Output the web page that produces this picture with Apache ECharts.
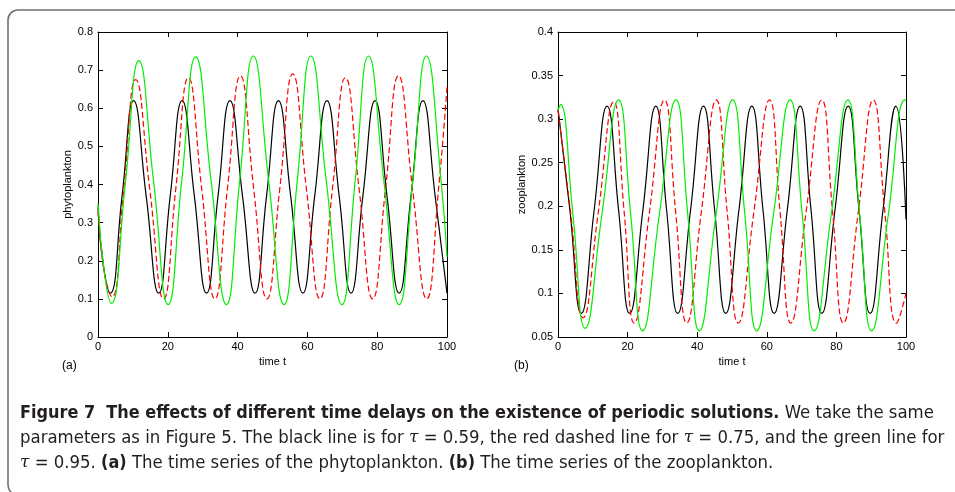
<!DOCTYPE html>
<html>
<head>
<meta charset="utf-8">
<script src="https://cdn.jsdelivr.net/npm/echarts@6/dist/echarts.min.js"></script>
<style>
html,body{margin:0;padding:0;background:#fff;}
#chart{width:955px;height:492px;}
</style>
</head>
<body>
<div id="chart"></div>
<script>
// ---- tick labels ----
var xTicks = [0, 20, 40, 60, 80, 100];
var phytoTicks = [0, 0.1, 0.2, 0.3, 0.4, 0.5, 0.6, 0.7, 0.8];
var zooTicks = [0.05, 0.1, 0.15, 0.2, 0.25, 0.3, 0.35, 0.4];

// ---- (a) phytoplankton: [time t, value] ----
var phytoBlack = [[0,0.34],[1.5,0.19],[3.5,0.115],[6.9,0.37],[10.2,0.62],[13.8,0.37],[17.4,0.115],[20.7,0.37],[24.1,0.62],[27.6,0.37],[31.1,0.115],[34.4,0.37],[37.8,0.62],[41.4,0.37],[45.0,0.115],[48.3,0.37],[51.7,0.62],[55.2,0.37],[58.7,0.115],[62.1,0.37],[65.6,0.62],[69.1,0.37],[72.5,0.115],[75.9,0.37],[79.4,0.62],[82.8,0.37],[86.3,0.115],[89.7,0.37],[93.1,0.62],[96.6,0.37],[100,0.115]];
var phytoRed = [[0,0.33],[1.8,0.17],[4.0,0.105],[7.4,0.39],[10.8,0.675],[14.8,0.39],[18.8,0.1],[22.3,0.39],[25.9,0.68],[29.7,0.39],[33.5,0.1],[37.1,0.39],[40.8,0.685],[44.6,0.39],[48.4,0.1],[52.1,0.39],[55.8,0.69],[59.7,0.39],[63.6,0.1],[67.2,0.39],[70.9,0.68],[74.8,0.39],[78.7,0.1],[82.4,0.39],[86.1,0.685],[90.1,0.39],[94.2,0.1],[97.6,0.39],[100,0.655]];
var phytoGreen = [[0,0.35],[1.8,0.17],[3.8,0.088],[7.8,0.40],[11.7,0.725],[15.9,0.41],[20.1,0.085],[24.0,0.41],[28.0,0.735],[32.4,0.41],[36.8,0.085],[40.6,0.41],[44.5,0.737],[48.9,0.41],[53.3,0.085],[57.1,0.41],[61.0,0.737],[65.4,0.41],[69.9,0.085],[73.7,0.41],[77.5,0.737],[81.9,0.41],[86.3,0.085],[90.2,0.41],[94.1,0.737],[98.3,0.41],[100,0.21]];

// ---- (b) zooplankton ----
var zooBlack = [[0,0.312],[3.4,0.196],[6.7,0.077],[10.4,0.196],[14.1,0.315],[17.4,0.196],[20.6,0.077],[24.4,0.196],[28.1,0.315],[31.2,0.196],[34.4,0.077],[38.1,0.196],[41.8,0.315],[45.0,0.196],[48.2,0.077],[52.0,0.196],[55.7,0.315],[58.9,0.196],[62.1,0.077],[65.9,0.196],[69.6,0.315],[72.7,0.196],[75.8,0.077],[79.6,0.196],[83.4,0.315],[86.5,0.196],[89.7,0.077],[93.4,0.196],[97.1,0.315],[100,0.185]];
var zooRed = [[0,0.31],[3.6,0.194],[7.2,0.072],[11.6,0.194],[16.0,0.32],[19.0,0.194],[21.9,0.066],[26.3,0.194],[30.6,0.322],[33.8,0.194],[37.0,0.066],[41.2,0.194],[45.5,0.322],[48.6,0.194],[51.8,0.066],[56.3,0.194],[60.8,0.322],[63.8,0.194],[66.9,0.066],[71.3,0.194],[75.8,0.322],[78.9,0.194],[82.0,0.066],[86.3,0.194],[90.6,0.322],[93.9,0.194],[97.3,0.066],[100,0.1]];
var zooGreen = [[0,0.31],[0.7,0.317],[4.3,0.19],[7.8,0.06],[12.6,0.19],[17.4,0.322],[20.9,0.19],[24.3,0.057],[29.1,0.19],[33.9,0.322],[37.3,0.19],[40.6,0.057],[45.4,0.19],[50.2,0.322],[53.7,0.19],[57.1,0.057],[61.9,0.19],[66.7,0.322],[70.2,0.19],[73.6,0.057],[78.5,0.19],[83.3,0.322],[86.7,0.19],[90.1,0.057],[94.9,0.19],[99.7,0.322],[100,0.321]];

var captionFont = '"Liberation Sans Narrow","DejaVu Sans Condensed","Noto Sans",sans-serif';
var axisFont = '"Liberation Sans", Arial, sans-serif';
var capSize = 18.4;
var capBold = 17.9;

function xAx(grid, pos, labels) {
  return {
    type: 'value', gridIndex: grid, position: pos, min: xTicks[0], max: xTicks[xTicks.length-1],
    interval: xTicks[1]-xTicks[0],
    name: labels ? 'time t' : '', nameLocation: 'middle', nameGap: 19,
    nameTextStyle: {fontFamily: axisFont, fontSize: 11, color: '#000'},
    axisLine: {show: true, onZero: false, lineStyle: {color: '#000', width: 1}},
    axisTick: {show: true, inside: true, length: 5, lineStyle: {color: '#000'}},
    axisLabel: {show: labels, fontFamily: axisFont, fontSize: 11, color: '#000', margin: 4},
    splitLine: {show: false}
  };
}
function yAx(grid, pos, ticks, name, gap, dec) {
  var labels = pos === 'left';
  return {
    type: 'value', gridIndex: grid, position: pos, min: ticks[0], max: ticks[ticks.length-1],
    interval: ticks[1]-ticks[0],
    name: labels ? name : '', nameLocation: 'middle', nameGap: gap, nameRotate: 90,
    nameTextStyle: {fontFamily: axisFont, fontSize: 11, color: '#000'},
    axisLine: {show: true, onZero: false, lineStyle: {color: '#000', width: 1}},
    axisTick: {show: true, inside: true, length: 5, lineStyle: {color: '#000'}},
    axisLabel: {show: labels, fontFamily: axisFont, fontSize: 11, color: '#000', margin: 5,
      formatter: function (v) { return String(+v.toFixed(dec)); }},
    splitLine: {show: false}
  };
}
function ser(data, xi, yi, color, dashed) {
  return {
    type: 'line', data: data, xAxisIndex: xi, yAxisIndex: yi, showSymbol: false, smooth: 0.5,
    animation: false, silent: true,
    lineStyle: {color: color, width: 1.2, type: dashed ? [6, 3] : 'solid'}
  };
}

var chart = echarts.init(document.getElementById('chart'), null, {renderer: 'canvas'});
chart.setOption({
  animation: false,
  backgroundColor: '#fff',
  grid: [
    {left: 98, top: 32, width: 349, height: 305, show: false},
    {left: 558, top: 32, width: 348, height: 305, show: false}
  ],
  xAxis: [xAx(0, 'bottom', true), xAx(0, 'top', false), xAx(1, 'bottom', true), xAx(1, 'top', false)],
  yAxis: [yAx(0, 'left', phytoTicks, 'phytoplankton', 18, 1), yAx(0, 'right', phytoTicks, '', 0, 1),
          yAx(1, 'left', zooTicks, 'zooplankton', 26, 2), yAx(1, 'right', zooTicks, '', 0, 2)],
  series: [
    ser(phytoBlack, 0, 0, '#000000', false),
    ser(phytoRed, 0, 0, '#ff0000', true),
    ser(phytoGreen, 0, 0, '#00ee00', false),
    ser(zooBlack, 2, 2, '#000000', false),
    ser(zooRed, 2, 2, '#ff0000', true),
    ser(zooGreen, 2, 2, '#00ee00', false)
  ],
  graphic: [
    {type: 'rect', shape: {x: 8, y: 10, width: 1000, height: 485, r: 10}, style: {fill: 'none', stroke: '#707070', lineWidth: 1.6}, silent: true},
    {type: 'text', left: 62, top: 360, style: {text: '(a)', font: '12px ' + axisFont, fill: '#000'}},
    {type: 'text', left: 514, top: 360, style: {text: '(b)', font: '12px ' + axisFont, fill: '#000'}},
    {type: 'text', left: 20, top: 404, style: {
      text: '{b|Figure 7  The effects of different time delays on the existence of periodic solutions.}{r| We take the same}',
      rich: {
        b: {fontFamily: captionFont, fontSize: capBold, fontWeight: 'bold', fill: '#231f20'},
        r: {fontFamily: captionFont, fontSize: capSize, fill: '#231f20'}
      }}},
    {type: 'text', left: 20, top: 429, style: {
      text: '{r|parameters as in Figure 5. The black line is for }{t|τ}{r| = 0.59, the red dashed line for }{t|τ}{r| = 0.75, and the green line for}',
      rich: {
        r: {fontFamily: captionFont, fontSize: capSize, fill: '#231f20'},
        t: {fontFamily: '"DejaVu Serif", serif', fontStyle: 'italic', fontSize: 17, fill: '#231f20'}
      }}},
    {type: 'text', left: 20, top: 454, style: {
      text: '{t|τ}{r| = 0.95. }{b|(a)}{r| The time series of the phytoplankton. }{b|(b)}{r| The time series of the zooplankton.}',
      rich: {
        r: {fontFamily: captionFont, fontSize: capSize, fill: '#231f20'},
        b: {fontFamily: captionFont, fontSize: capBold, fontWeight: 'bold', fill: '#231f20'},
        t: {fontFamily: '"DejaVu Serif", serif', fontStyle: 'italic', fontSize: 17, fill: '#231f20'}
      }}}
  ]
});
</script>
</body>
</html>
